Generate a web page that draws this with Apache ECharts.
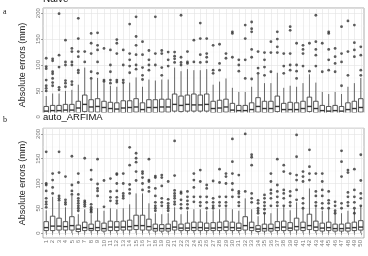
<!DOCTYPE html>
<html>
<head>
<meta charset="utf-8">
<title>Absolute errors</title>
<script src="https://cdn.jsdelivr.net/npm/echarts@6/dist/echarts.min.js"></script>
<style>
html, body { margin: 0; padding: 0; background: #fff; }
#main { width: 368px; height: 256px; }
</style>
</head>
<body>
<div id="main"></div>
<script>
// categories 1..50
var categories = [];
for (var c = 1; c <= 50; c++) categories.push(String(c));

// boxes: [lower whisker, q1, median, q3, upper whisker]
var naiveBoxes = [
	[0, 6, 11, 20, 40], [0, 6, 12, 22, 45], [0, 6, 12, 22, 45], [0, 7, 13, 24, 50], [0, 7, 13, 24, 52],
	[0, 8, 17, 30, 62], [0, 10, 24, 42, 95], [0, 9, 19, 33, 72], [0, 9, 20, 35, 75], [0, 8, 18, 30, 65],
	[0, 8, 16, 28, 60], [0, 7, 15, 27, 58], [0, 8, 17, 31, 66], [0, 8, 18, 31, 66], [0, 9, 19, 35, 76],
	[0, 7, 14, 27, 58], [0, 8, 18, 33, 72], [0, 8, 18, 33, 70], [0, 9, 19, 34, 72], [0, 9, 19, 34, 72],
	[0, 11, 24, 44, 95], [0, 10, 22, 40, 88], [0, 11, 24, 42, 92], [0, 11, 23, 44, 90], [0, 11, 23, 42, 90],
	[0, 11, 24, 44, 92], [0, 8, 16, 30, 62], [0, 8, 17, 32, 68], [0, 9, 19, 34, 74], [0, 7, 13, 26, 56],
	[0, 6, 12, 22, 48], [0, 6, 12, 22, 48], [0, 7, 14, 27, 58], [0, 9, 20, 37, 82], [0, 8, 16, 30, 65],
	[0, 8, 16, 30, 65], [0, 10, 20, 40, 85], [0, 7, 14, 26, 56], [0, 7, 14, 28, 60], [0, 7, 14, 27, 58],
	[0, 8, 16, 30, 65], [0, 10, 20, 38, 82], [0, 8, 16, 30, 66], [0, 6, 12, 22, 48], [0, 6, 11, 20, 44],
	[0, 6, 12, 22, 48], [0, 6, 11, 20, 44], [0, 7, 14, 27, 58], [0, 8, 16, 30, 65], [0, 9, 18, 35, 75]
];
var naiveOutliers = [
	[113, 97, 93, 71, 60, 55, 50], [112, 108, 87, 83, 74, 66, 60], [199, 119, 96, 57, 52], [148, 106, 100, 70, 65, 58], [132, 126, 106, 100, 68, 62],
	[190, 151, 126, 116, 90, 85], [126, 106], [161, 142, 122, 87, 74], [162, 138, 129, 106, 84], [132, 71, 68],
	[129, 100, 87, 71, 65], [149, 142, 122, 71, 67], [129, 100, 71, 66], [179, 122, 110, 98, 85], [193, 155, 138, 120, 100, 92],
	[145, 120, 95, 80, 72], [128, 110, 100, 90], [193, 122, 100], [128, 122, 95, 80], [125, 110, 98],
	[125, 117, 112, 105], [196, 115, 105, 100], [126, 106, 103], [148, 106], [181, 151, 120, 105],
	[151, 122, 115, 106], [138, 90, 84], [140, 103, 90], [122, 113], [164, 161, 115],
	[110, 100, 88], [177, 151, 110, 74], [183, 170, 164, 130, 115, 73], [126, 94, 84], [124, 110, 96, 80],
	[145, 124, 87], [164, 150, 135, 124], [122, 98, 84], [174, 167, 122, 100, 90], [142, 100, 88, 74],
	[138, 130, 122, 98], [142, 88], [196, 145, 130, 119, 98], [142, 87], [164, 161, 130, 110, 90],
	[132, 116, 103, 87], [174, 122, 106, 60], [185, 126, 80], [177, 143, 129, 116], [135, 119, 90, 80]
];
var arfimaBoxes = [
	[0, 5, 11, 23, 46], [0, 5, 14, 34, 73], [0, 6, 14, 30, 62], [0, 6, 13, 23, 52], [0, 6, 15, 33, 75],
	[0, 3, 8, 16, 38], [0, 5, 11, 22, 48], [0, 5, 9, 18, 38], [0, 5, 11, 24, 50], [0, 4, 9, 20, 45],
	[0, 5, 12, 24, 50], [0, 5, 12, 23, 48], [0, 6, 12, 24, 50], [0, 6, 13, 26, 58], [0, 7, 15, 36, 80],
	[0, 6, 15, 36, 80], [0, 6, 13, 28, 60], [0, 4, 9, 18, 40], [0, 4, 9, 17, 38], [0, 4, 9, 18, 40],
	[0, 6, 12, 24, 52], [0, 5, 10, 18, 38], [0, 5, 10, 20, 45], [0, 5, 11, 22, 48], [0, 5, 11, 22, 48],
	[0, 5, 10, 20, 45], [0, 5, 10, 21, 46], [0, 5, 11, 22, 48], [0, 5, 12, 24, 52], [0, 5, 11, 22, 48],
	[0, 5, 10, 20, 45], [0, 6, 15, 33, 70], [0, 5, 11, 22, 48], [0, 3, 8, 15, 34], [0, 4, 9, 18, 40],
	[0, 4, 9, 18, 40], [0, 5, 11, 23, 50], [0, 5, 12, 24, 52], [0, 5, 10, 21, 46], [0, 6, 13, 30, 62],
	[0, 5, 11, 22, 48], [0, 7, 15, 38, 90], [0, 5, 12, 24, 52], [0, 4, 10, 20, 45], [0, 5, 11, 22, 48],
	[0, 4, 9, 18, 40], [0, 4, 9, 18, 40], [0, 4, 10, 20, 45], [0, 5, 11, 22, 48], [0, 6, 12, 25, 55]
];
var arfimaOutliers = [
	[164, 100, 97, 85, 70, 63, 58, 52], [120, 107, 92, 80], [164, 122, 75, 70, 66], [114, 67, 62, 58], [155, 97, 85, 78],
	[120, 102, 78, 70, 65, 60, 55, 50, 45], [151, 65, 62, 58, 54], [127, 108, 58, 52, 48, 45, 42], [149, 99, 90, 85, 75], [106, 53],
	[110, 84, 72, 65], [120, 118, 100, 85, 72, 65, 60], [120, 100, 80, 75, 70], [173, 137, 98, 88, 80], [161, 151, 143, 124, 106],
	[124, 120, 112, 100, 87], [149, 107, 104, 92, 84], [115, 112, 90, 75, 62, 55, 50, 45], [117, 112, 95, 70, 62, 55], [104, 68, 60, 55, 50, 45],
	[186, 116, 86, 80, 75, 70, 63, 58], [83, 80, 67, 58, 50], [84, 73, 65, 58, 50], [120, 107, 92, 73, 63], [127, 104, 73, 62, 55],
	[97, 90, 73, 62, 50], [105, 70, 62, 55, 50], [129, 102, 73, 62, 55], [120, 114, 100, 73, 62, 55], [190, 144, 120, 100, 87, 73],
	[117, 84, 80, 73, 62, 55], [200, 84], [158, 153, 137, 80, 70, 62], [66, 60, 50, 45, 40], [77, 70, 62, 55, 48, 40],
	[120, 104, 87, 80, 70, 55], [149, 97, 84, 73, 62, 55], [137, 124, 87, 80, 70, 55], [120, 84, 75, 62, 55], [198, 154, 117, 107, 87, 67],
	[124, 114, 104, 70, 60, 50], [168, 134, 120, 107], [120, 84, 75, 62, 55], [120, 104, 87, 75, 60, 50], [84, 66, 60, 50],
	[63, 55, 45, 40], [166, 144, 114, 60, 50], [127, 122, 82, 73, 62, 55], [129, 87, 73, 62, 50, 40], [158, 106, 80, 70, 55]
];

function boxData(boxes) {
	return boxes.map(function(b, i) { return [i].concat(b); });
}
function outlierData(lists) {
	var out = [];
	lists.forEach(function(vals, i) {
		vals.forEach(function(v) { out.push([i, v]); });
	});
	return out;
}

function renderBox(params, api) {
	var i = api.value(0);
	var lo = api.coord([i, api.value(1)]);
	var q1 = api.coord([i, api.value(2)]);
	var med = api.coord([i, api.value(3)]);
	var q3 = api.coord([i, api.value(4)]);
	var hi = api.coord([i, api.value(5)]);
	var w = api.size([1, 0])[0] * 0.7;
	var x = lo[0];
	var stroke = '#444';
	return {
		type: 'group',
		children: [
			{ type: 'line', shape: { x1: x, y1: lo[1], x2: x, y2: q1[1] }, style: { stroke: stroke, lineWidth: 0.8 } },
			{ type: 'line', shape: { x1: x, y1: q3[1], x2: x, y2: hi[1] }, style: { stroke: stroke, lineWidth: 0.8 } },
			{ type: 'rect', shape: { x: x - w / 2, y: q3[1], width: w, height: q1[1] - q3[1] }, style: { fill: '#fff', stroke: stroke, lineWidth: 0.9 } },
			{ type: 'line', shape: { x1: x - w / 2, y1: med[1], x2: x + w / 2, y2: med[1] }, style: { stroke: '#333', lineWidth: 1.4 } }
		]
	};
}

function makeX(idx, showLabels) {
	return {
		gridIndex: idx,
		type: 'category',
		data: categories,
		boundaryGap: true,
		axisLine: { show: false },
		axisTick: { show: showLabels, alignWithLabel: true, length: 2, lineStyle: { color: '#666', width: 0.6 } },
		axisLabel: { show: showLabels, rotate: 90, interval: 0, fontSize: 6, margin: 2, color: '#777', fontFamily: 'Liberation Sans' },
		splitLine: { show: true, alignWithLabel: true, lineStyle: { color: '#e2e2e2', width: 0.6 } }
	};
}
function makeY(idx, max) {
	return {
		gridIndex: idx,
		type: 'value',
		min: -10,
		max: max,
		splitNumber: 5,
		axisLine: { show: false },
		axisTick: { show: true, length: 2, lineStyle: { color: '#666', width: 0.6 } },
		axisLabel: { rotate: 90, fontSize: 6, margin: 2, color: '#777', showMinLabel: false, showMaxLabel: false, fontFamily: 'Liberation Sans' },
		splitLine: { lineStyle: { color: '#e2e2e2', width: 0.6 } },
		minorTick: { show: false, splitNumber: 2 },
		minorSplitLine: { show: true, lineStyle: { color: '#f2f2f2', width: 0.4 } },
		name: 'Absolute errors (mm)',
		nameLocation: 'middle',
		nameGap: 16,
		nameTextStyle: { fontSize: 9, color: '#222', fontFamily: 'Liberation Sans' }
	};
}

var chart = echarts.init(document.getElementById('main'), null, { renderer: 'canvas' });
var option = {
	animation: false,
	grid: [
		{ left: 43, right: 4, top: 8, height: 114, show: true, borderColor: '#999', borderWidth: 0.8 },
		{ left: 43, right: 4, top: 128, height: 110, show: true, borderColor: '#999', borderWidth: 0.8 }
	],
	xAxis: [makeX(0, false), makeX(1, true)],
	yAxis: [makeY(0, 210), makeY(1, 212)],
	series: [
		{ type: 'custom', xAxisIndex: 0, yAxisIndex: 0, renderItem: renderBox, data: boxData(naiveBoxes), encode: { x: 0, y: [1, 2, 3, 4, 5] }, z: 3 },
		{ type: 'scatter', xAxisIndex: 0, yAxisIndex: 0, data: outlierData(naiveOutliers), symbolSize: 2.8, itemStyle: { color: '#333' }, z: 4 },
		{ type: 'custom', xAxisIndex: 1, yAxisIndex: 1, renderItem: renderBox, data: boxData(arfimaBoxes), encode: { x: 0, y: [1, 2, 3, 4, 5] }, z: 3 },
		{ type: 'scatter', xAxisIndex: 1, yAxisIndex: 1, data: outlierData(arfimaOutliers), symbolSize: 2.8, itemStyle: { color: '#333' }, z: 4 }
	],
	graphic: [
		{ type: 'rect', shape: { x: 41, y: 112.5, width: 327, height: 15 }, style: { fill: '#fff' }, z: 100 },
		{ type: 'text', x: 43, y: 4, style: { text: 'Naive', fontSize: 10, fill: '#111', fontFamily: 'Liberation Sans', textVerticalAlign: 'bottom' }, z: 101 },
		{ type: 'text', x: 43, y: 112, style: { text: 'auto_ARFIMA', fontSize: 9.5, fill: '#111', fontFamily: 'Liberation Sans' }, z: 101 },
		{ type: 'text', x: 3, y: 8, style: { text: 'a', fontSize: 8, fill: '#222', fontFamily: 'Liberation Serif' }, z: 101 },
		{ type: 'text', x: 3, y: 116, style: { text: 'b', fontSize: 8, fill: '#222', fontFamily: 'Liberation Serif' }, z: 101 }
	]
};
chart.setOption(option);
</script>
</body>
</html>
